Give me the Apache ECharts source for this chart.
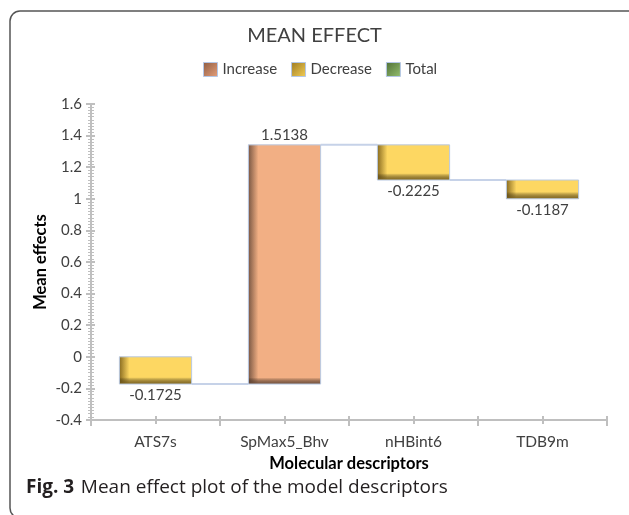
<!DOCTYPE html>
<html>
<head>
<meta charset="utf-8">
<script src="https://cdn.jsdelivr.net/npm/echarts@6/dist/echarts.min.js"></script>
<style>html,body{margin:0;padding:0;background:#fff;}#c{width:629px;height:515px;}</style>
</head>
<body>
<div id="c"></div>
<script>
var categories = ['ATS7s', 'SpMax5_Bhv', 'nHBint6', 'TDB9m'];
var effects = [-0.1725, 1.5138, -0.2225, -0.1187];
var halfTicks = ['a','b','c','d','e','f','g','h'];
var yMin = -0.4, yMax = 1.6, yStep = 0.2;

// cumulative waterfall levels
var incData = [], decData = [], connData = [];
var level = 0;
for (var i = 0; i < effects.length; i++) {
  var s = level, e = level + effects[i];
  var item = [i, s, e, effects[i]];
  if (effects[i] >= 0) incData.push(item); else decData.push(item);
  if (i < effects.length - 1) connData.push([i, e]);
  level = e;
}

var FONT = 'Lato';
var TXT = '#404040';

function makeBarRender(main, dark, up) {
  return function (params, api) {
    var idx = api.value(0), s = api.value(1), e = api.value(2), v = api.value(3);
    var cw = api.size([1, 0])[0];
    var bw = cw * 0.56;
    var cx = api.coord([idx, s])[0];
    var y1 = api.coord([idx, Math.max(s, e)])[1];
    var y2 = api.coord([idx, Math.min(s, e)])[1];
    var h = y2 - y1;
    var x = cx - bw / 2;
    var sh = Math.min(7 / h, 0.5);
    var lw = 10 / bw;
    var label = up ? {x: cx, y: y1 - 10} : {x: cx, y: y2 + 11};
    return {
      type: 'group',
      children: [
        {type: 'rect', shape: {x: x, y: y1, width: bw, height: h},
         style: {fill: new echarts.graphic.LinearGradient(0, 0, 1, 0, [
           {offset: 0, color: dark}, {offset: lw, color: main}, {offset: 1, color: main}])}},
        {type: 'rect', shape: {x: x, y: y1, width: bw, height: h},
         style: {fill: new echarts.graphic.LinearGradient(0, 0, 0, 1, [
           {offset: 0, color: 'rgba(0,0,0,0)'}, {offset: 1 - sh, color: 'rgba(0,0,0,0)'},
           {offset: 1, color: dark}]), stroke: '#b9c9e3', lineWidth: 1}},
        {type: 'text', x: label.x, y: label.y,
         style: {text: String(v), fill: TXT, font: '15px ' + FONT, align: 'center', verticalAlign: 'middle'}}
      ]
    };
  };
}

var gInc = new echarts.graphic.LinearGradient(0, 0, 1, 1, [{offset: 0, color: '#8d5c43'}, {offset: 1, color: '#e8a07a'}]);
var gDec = new echarts.graphic.LinearGradient(0, 0, 1, 1, [{offset: 0, color: '#9c7a22'}, {offset: 1, color: '#f5cf55'}]);
var gTot = new echarts.graphic.LinearGradient(0, 0, 1, 1, [{offset: 0, color: '#4f6f36'}, {offset: 1, color: '#95c070'}]);

var tickStyle = {color: '#bfbfbf', width: 2};

var chart = echarts.init(document.getElementById('c'), null, {renderer: 'canvas'});
chart.setOption({
  animation: false,
  title: {
    text: 'MEAN EFFECT', left: 'center', top: 21,
    textStyle: {fontFamily: FONT, fontSize: 20, fontWeight: 'normal', color: TXT}
  },
  legend: {
    left: 198, top: 57, itemWidth: 14, itemHeight: 14, itemGap: 14,
    textStyle: {fontFamily: FONT, fontSize: 15, color: TXT},
    data: [
      {name: 'Increase', icon: 'rect', itemStyle: {color: gInc, borderColor: '#b4c7e7', borderWidth: 1}},
      {name: 'Decrease', icon: 'rect', itemStyle: {color: gDec, borderColor: '#b4c7e7', borderWidth: 1}},
      {name: 'Total', icon: 'rect', itemStyle: {color: gTot, borderColor: '#b4c7e7', borderWidth: 1}}
    ]
  },
  grid: {left: 91, right: 22, top: 104, bottom: 95},
  xAxis: [
    {type: 'category', data: categories, boundaryGap: true,
     axisLine: {onZero: false, lineStyle: {color: '#bfbfbf', width: 2}},
     axisTick: {show: true, length: 6, lineStyle: tickStyle},
     axisLabel: {fontFamily: FONT, fontSize: 15.5, color: TXT, margin: 14},
     name: 'Molecular descriptors', nameLocation: 'middle', nameGap: 35, nameMoveOverlap: false,
     nameTextStyle: {fontFamily: FONT, fontSize: 16.5, fontWeight: 'bold', color: '#000'}},
    {type: 'category', data: halfTicks, boundaryGap: true, position: 'bottom',
     axisLine: {show: false, onZero: false}, axisLabel: {show: false},
     axisTick: {show: true, length: 4, inside: true, lineStyle: tickStyle}},
    {type: 'category', data: halfTicks, boundaryGap: true, position: 'bottom',
     axisLine: {show: false, onZero: false}, axisLabel: {show: false},
     axisTick: {show: true, length: 4, lineStyle: tickStyle}}
  ],
  yAxis: [
    {type: 'value', min: yMin, max: yMax, interval: yStep,
     axisLine: {show: true, onZero: false, lineStyle: {color: '#bfbfbf', width: 2}},
     axisTick: {show: true, length: 5, lineStyle: tickStyle},
     minorTick: {show: true, splitNumber: 10, length: 3, lineStyle: {color: '#bfbfbf', width: 1}},
     splitLine: {show: false},
     axisLabel: {fontFamily: FONT, fontSize: 15, color: TXT, margin: 9},
     name: 'Mean effects', nameLocation: 'middle', nameGap: 42, nameMoveOverlap: false,
     nameTextStyle: {fontFamily: FONT, fontSize: 16.5, fontWeight: 'bold', color: '#000'}},
    {type: 'value', min: yMin, max: yMax, interval: yStep, position: 'left',
     axisLine: {show: false, onZero: false}, axisLabel: {show: false}, splitLine: {show: false},
     axisTick: {show: true, inside: true, length: 4, lineStyle: tickStyle},
     minorTick: {show: true, splitNumber: 10, length: 3, lineStyle: {color: '#bfbfbf', width: 1}}}
  ],
  series: [
    {type: 'custom', name: 'connector', data: connData, z: 1, silent: true,
     renderItem: function (params, api) {
       var cw = api.size([1, 0])[0], bw = cw * 0.56;
       var p = api.coord([api.value(0), api.value(1)]);
       return {type: 'line', shape: {x1: p[0] + bw / 2, y1: p[1], x2: p[0] + cw - bw / 2, y2: p[1]},
               style: {stroke: '#c6d2e8', lineWidth: 2}};
     }},
    {type: 'custom', name: 'Increase', data: incData, z: 3, itemStyle: {color: gInc},
     renderItem: makeBarRender('#f2af84', '#7a5743', true)},
    {type: 'custom', name: 'Decrease', data: decData, z: 3, itemStyle: {color: gDec},
     renderItem: makeBarRender('#fdd762', '#8a6c20', false)},
    {type: 'bar', name: 'Total', data: [], itemStyle: {color: gTot}}
  ],
  graphic: [
    {type: 'rect', shape: {x: 10, y: 11, width: 640, height: 507, r: 10},
     style: {fill: 'none', stroke: '#555', lineWidth: 1.5}, silent: true},
    {type: 'text', left: 26, top: 478,
     style: {text: '{b|Fig. 3}  {r|Mean effect plot of the model descriptors}',
       rich: {b: {fontFamily: 'Open Sans', fontSize: 19, fontWeight: 'bold', fill: '#231f20'},
              r: {fontFamily: 'Open Sans', fontSize: 19, fill: '#231f20'}}}}
  ]
});
</script>
</body>
</html>
